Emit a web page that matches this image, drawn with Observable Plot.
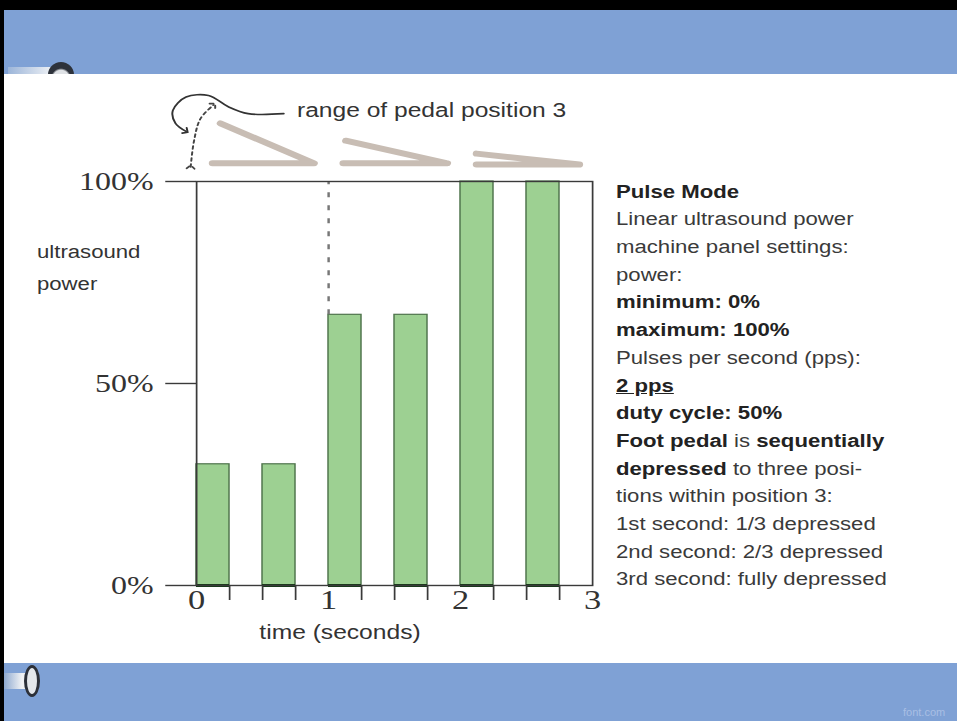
<!DOCTYPE html>
<html><head><meta charset="utf-8">
<script src="https://cdn.jsdelivr.net/npm/d3@7"></script>
<script src="https://cdn.jsdelivr.net/npm/@observablehq/plot@0.6"></script>
<style>
html,body{margin:0;padding:0;background:#fff;}
body{width:957px;height:721px;position:relative;overflow:hidden;font-family:"Liberation Sans",Arial,sans-serif;color:#333;}
#topbar{position:absolute;left:0;top:0;width:957px;height:10px;background:#000;}
#leftbar{position:absolute;left:0;top:0;width:4px;height:721px;background:#000;}
.band{position:absolute;left:4px;width:953px;background:#7fa1d5;overflow:hidden;}
#band1{top:10px;height:64px;}
#band2{top:663px;height:58px;}
#wrap{position:absolute;left:0;top:74px;transform-origin:0 0;}
#wrap svg{display:block;overflow:visible;}
#ylab{position:absolute;font-size:18px;line-height:32px;white-space:nowrap;color:#333;}
#xlab{position:absolute;font-size:20px;line-height:24px;white-space:nowrap;color:#333;text-align:center;}
#panel{position:absolute;font-size:18px;line-height:27.7px;white-space:nowrap;color:#3a3a3a;}
#panel b{color:#222;}
#wm{position:absolute;font-size:11px;color:#a9bfe4;}
</style></head><body>
<div id="topbar"></div>
<div class="band" id="band1">
  <div style="position:absolute;left:4px;top:57px;width:44px;height:8px;background:linear-gradient(to right,#9cb5d9,#eef1f5);"></div>
  <div style="position:absolute;left:44px;top:52px;width:26px;height:26px;border-radius:50%;background:radial-gradient(circle at 50% 62%,#dfe2e6 0 38%,#2d323b 48% 100%);"></div>
</div>
<div class="band" id="band2">
  <div style="position:absolute;left:0px;top:10px;width:26px;height:16px;background:linear-gradient(to right,#8ea9d0,#f2f3f5 70%,#dfe3e9);"></div>
  <div style="position:absolute;left:20px;top:2px;width:10px;height:26px;border:3px solid #2c3039;border-radius:50%;background:#e4e7eb;"></div>
  <div id="wm" style="left:899px;top:43px;">font.com</div>
</div>
<div id="leftbar"></div>
<div id="wrap"></div>
<script>
// ---- data ----
const pulseStart = [0, 0.5, 1, 1.5, 2, 2.5];        // seconds
const pulseEnd   = [0.25, 0.75, 1.25, 1.75, 2.25, 2.75];
const powerPct   = [30, 30, 67, 67, 100, 100];       // ultrasound power %
const yTicks = [0, 50, 100];
const xLabelTicks = [0, 1, 2, 3];
const xMinorTicks = [0.25, 0.5, 0.75, 1.25, 1.5, 1.75, 2.25, 2.5, 2.75];
// pedal-position wedges drawn above the frame (time, % units)
const wedgeTopStart    = [0.18, 1.13, 2.12];
const wedgeBottomStart = [0.12, 1.11, 2.12];
const wedgeTip         = [0.89, 1.90, 2.90];
const wedgeOpen        = [114.4, 110.1, 106.9];
const wedgeBase        = [104.5, 104.5, 104.2];
// annotation "range of pedal position 3"
const annoLabel = "range of pedal position 3";
const annoX = 0.76, annoY = 117.6;
const leaderT = [0.66, 0.39, 0.24, 0.09, -0.08, -0.18, -0.16, -0.08];
const leaderP = [116.8, 116.8, 118.5, 121.3, 120.9, 117.6, 114.4, 112.4];
const rangeT  = [-0.045, -0.02, 0.03, 0.13];
const rangeP  = [103.6, 110.0, 115.6, 119.0];
const panelLines = [
  [["Pulse Mode","b"]],
  [["Linear ultrasound power"]],
  [["machine panel settings:"]],
  [["power:"]],
  [["minimum: 0%","b"]],
  [["maximum: 100%","b"]],
  [["Pulses per second (pps):"]],
  [["2 pps","bu"]],
  [["duty cycle: 50%","b"]],
  [["Foot pedal","b"],[" is "],["sequentially","b"]],
  [["depressed","b"],[" to three posi-"]],
  [["tions within position 3:"]],
  [["1st second: 1/3 depressed"]],
  [["2nd second: 2/3 depressed"]],
  [["3rd second: fully depressed"]]
];
const yLabelLines = ["ultrasound", "power"];
const xTitle = "time (seconds)";

// ---- build ----
const S = 1.23; // horizontal stretch of the original figure
const W = 957 / S, H = 589;
const bars = pulseStart.map((s, i) => ({x1: s, x2: pulseEnd[i], power: powerPct[i]}));
const wedges = [];
wedgeTip.forEach((tip, i) => {
  wedges.push({w: i, t: wedgeTopStart[i], p: wedgeOpen[i]});
  wedges.push({w: i, t: tip, p: wedgeBase[i]});
  wedges.push({w: i, t: wedgeBottomStart[i], p: wedgeBase[i]});
});
const leader = leaderT.map((t, i) => ({t, p: leaderP[i]}));
const rangeArrow = rangeT.map((t, i) => ({t, p: rangeP[i]}));

const chart = Plot.plot({
  width: W, height: H,
  marginLeft: 196 / S, marginRight: 365 / S, marginTop: 107, marginBottom: 78,
  style: {background: "transparent", overflow: "visible"},
  x: {domain: [0, 3], label: null},
  y: {domain: [0, 100], label: null},
  marks: [
    Plot.line(wedges, {x: "t", y: "p", z: "w", stroke: "#c8bdb4", strokeWidth: 6, strokeLinecap: "round", strokeLinejoin: "round"}),
    Plot.line(leader, {x: "t", y: "p", curve: "catmull-rom", stroke: "#333", strokeWidth: 1.6, markerEnd: "arrow"}),
    Plot.line(rangeArrow, {x: "t", y: "p", curve: "catmull-rom", stroke: "#444", strokeWidth: 1.6, strokeDasharray: "3,3", markerStart: "arrow", markerEnd: "arrow"}),
    Plot.text([{t: annoX, p: annoY, label: annoLabel}], {x: "t", y: "p", text: "label", textAnchor: "start", fontSize: 20, fontFamily: "Liberation Sans", fill: "#333"}),
    Plot.rect(bars, {x1: "x1", x2: "x2", y1: 0, y2: "power", fill: "#9dd092", stroke: "#4f744c", strokeWidth: 1.2}),
    Plot.ruleY(bars, {x1: "x1", x2: "x2", y: 0, stroke: "#163a18", strokeWidth: 3}),
    Plot.ruleX([bars[2]], {x: "x1", y1: "power", y2: 100, stroke: "#777", strokeWidth: 2, strokeDasharray: "5,8"}),
    Plot.frame({stroke: "#3a3a3a", strokeWidth: 1.4}),
    Plot.axisY({ticks: yTicks, tickSize: 25, tickPadding: 10, tickFormat: d => d + "%", fontSize: 26, fontFamily: "Liberation Serif", stroke: "#3a3a3a", strokeWidth: 1.4, fill: "#333", label: null}),
    Plot.axisX({ticks: xMinorTicks, tickSize: 15, tickFormat: () => "", stroke: "#3a3a3a", strokeWidth: 1.4, label: null}),
    Plot.axisX({ticks: xLabelTicks, tickSize: 0, tickPadding: 4, tickFormat: d => String(d), fontSize: 28, fontFamily: "Liberation Serif", fill: "#333", label: null})
  ]
});

const wrap = document.getElementById("wrap");
wrap.style.width = W + "px";
wrap.style.height = H + "px";
wrap.style.transform = `scaleX(${S})`;
wrap.appendChild(chart);

// y title
const yl = document.createElement("div");
yl.id = "ylab";
yl.style.left = (37 / S) + "px";
yl.style.top = (252 - 74 - 16) + "px";
yl.innerHTML = yLabelLines.join("<br>");
wrap.appendChild(yl);

// x title
const xl = document.createElement("div");
xl.id = "xlab";
xl.style.left = (340 / S - 100) + "px";
xl.style.width = "200px";
xl.style.top = (632 - 74 - 12) + "px";
xl.textContent = xTitle;
wrap.appendChild(xl);

// right-hand settings panel
const panel = document.createElement("div");
panel.id = "panel";
panel.style.left = (616 / S) + "px";
panel.style.top = (192 - 74 - 13.4) + "px";
for (const line of panelLines) {
  const div = document.createElement("div");
  for (const [txt, st] of line) {
    let el;
    if (st === "b") { el = document.createElement("b"); el.textContent = txt; }
    else if (st === "bu") { el = document.createElement("b"); const u = document.createElement("u"); u.textContent = txt; el.appendChild(u); }
    else { el = document.createTextNode(txt); }
    div.appendChild(el);
  }
  panel.appendChild(div);
}
wrap.appendChild(panel);
</script>
</body></html>
